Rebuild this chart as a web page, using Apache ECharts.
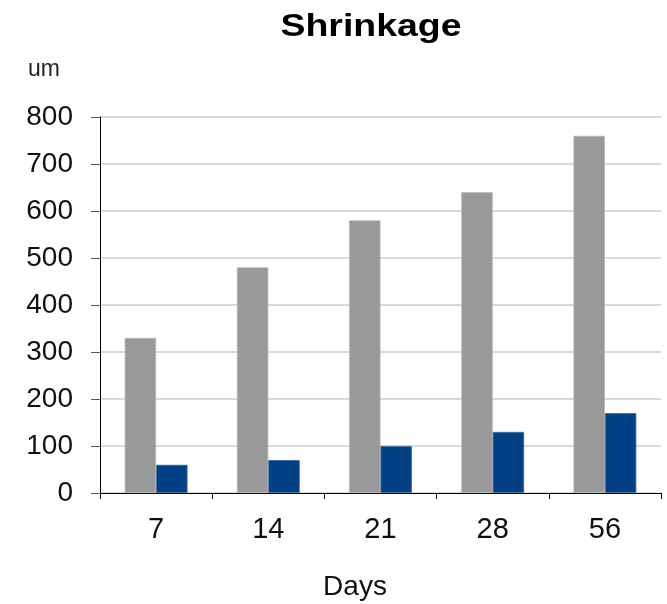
<!DOCTYPE html>
<html>
<head>
<meta charset="utf-8">
<script src="https://cdn.jsdelivr.net/npm/echarts@6/dist/echarts.min.js"></script>
<style>
  html, body { margin: 0; padding: 0; background: #ffffff; }
  #chart { width: 667px; height: 604px; }
</style>
</head>
<body>
<div id="chart"></div>
<script>
// Shrinkage measured at each curing age (days)
const days = ['7', '14', '21', '28', '56'];
const shrinkageGray = [330, 480, 580, 640, 760];
const shrinkageBlue = [60, 70, 100, 130, 170];
const yTicks = { min: 0, max: 800, interval: 100 };

const FONT = '"Liberation Sans", Arial, sans-serif';

const chart = echarts.init(document.getElementById('chart'), null, { renderer: 'canvas' });

chart.setOption({
  backgroundColor: '#ffffff',
  animation: false,
  grid: { left: 100, right: 6, top: 117, bottom: 111, containLabel: false },
  graphic: [
    {
      type: 'text', x: 371, y: 11, scaleX: 1.17,
      style: { text: 'Shrinkage', font: 'bold 32px ' + FONT, fill: '#000000', textAlign: 'center', textVerticalAlign: 'top' }
    },
    {
      type: 'text', x: 28, y: 58,
      style: { text: 'um', font: '23px ' + FONT, fill: '#222222', textAlign: 'left', textVerticalAlign: 'top' }
    },
    {
      type: 'text', x: 355, y: 573,
      style: { text: 'Days', font: '28px ' + FONT, fill: '#111111', textAlign: 'center', textVerticalAlign: 'top' }
    }
  ],
  xAxis: {
    type: 'category',
    data: days,
    axisLine: { show: true, lineStyle: { color: '#000000', width: 1 } },
    axisTick: { show: true, alignWithLabel: false, length: 6, lineStyle: { color: '#000000' } },
    axisLabel: { color: '#111111', fontSize: 29, fontFamily: FONT, margin: 22 },
    splitLine: { show: false }
  },
  yAxis: {
    type: 'value',
    min: yTicks.min, max: yTicks.max, interval: yTicks.interval,
    axisLine: { show: true, lineStyle: { color: '#000000', width: 1 } },
    axisTick: { show: true, length: 9, lineStyle: { color: '#555555' } },
    axisLabel: { color: '#111111', fontSize: 28, fontFamily: FONT, margin: 27 },
    splitLine: { show: true, lineStyle: { color: '#d9d9d9', width: 2 } }
  },
  series: [
    {
      type: 'bar', data: shrinkageGray,
      barGap: '0%', barCategoryGap: '44%',
      itemStyle: { color: '#999999', borderColor: '#b5b5b5', borderWidth: 0.8 }
    },
    {
      type: 'bar', data: shrinkageBlue,
      barGap: '0%', barCategoryGap: '44%',
      itemStyle: { color: '#004083', borderColor: '#3c6aa0', borderWidth: 0.8 }
    }
  ]
});
</script>
</body>
</html>
